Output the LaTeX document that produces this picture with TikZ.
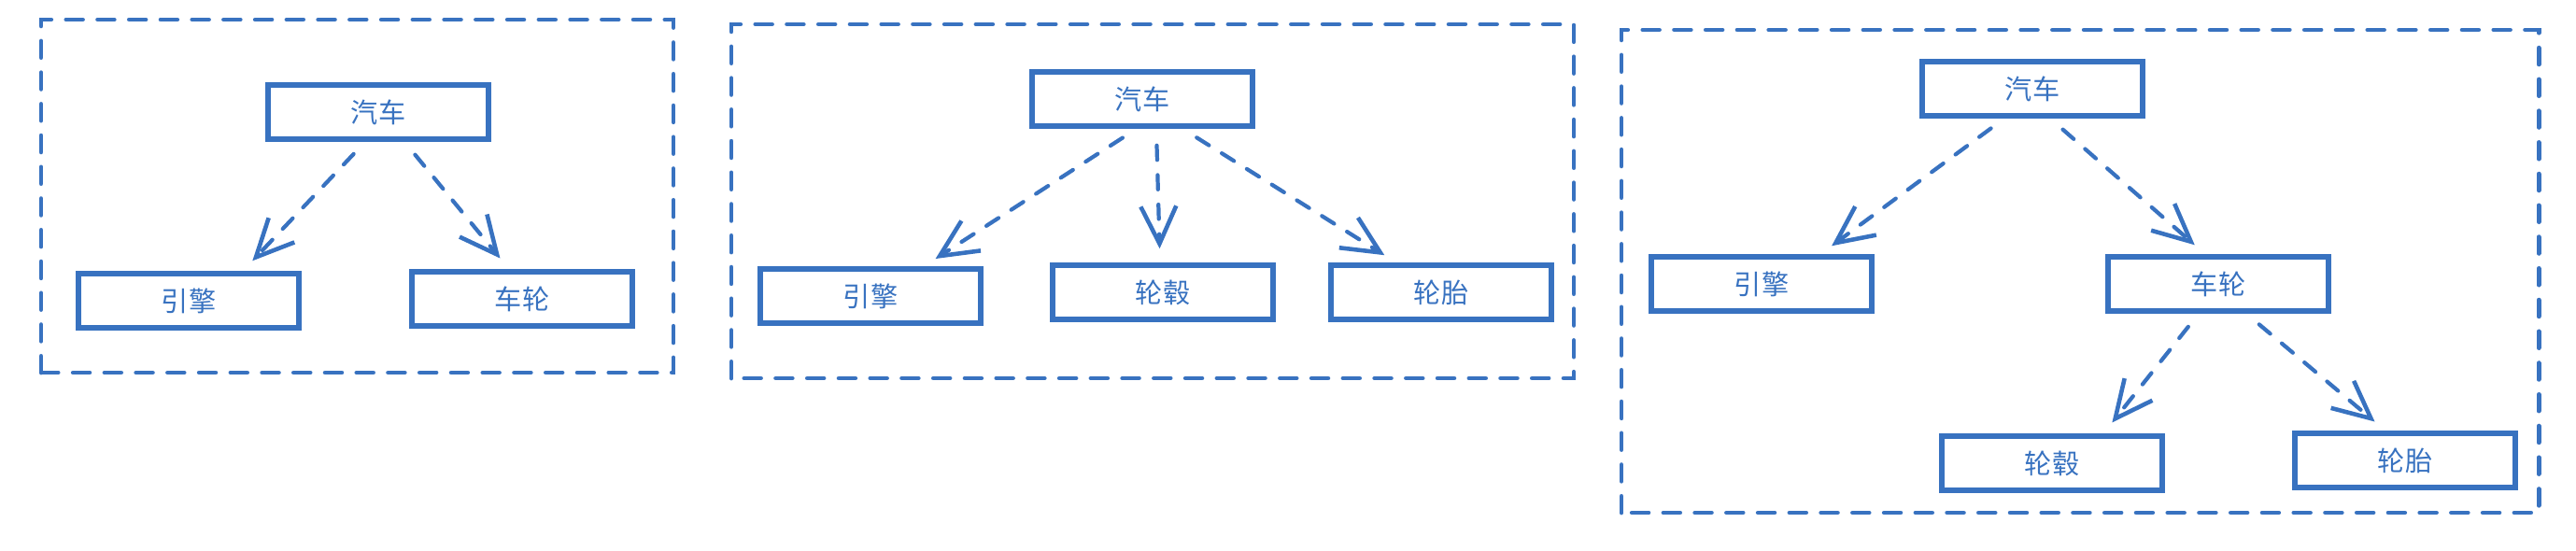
\documentclass[tikz,border=0pt]{standalone}
\usepackage{fontspec}
\setmainfont{Noto Sans CJK SC}
\usepackage{xcolor}
\usetikzlibrary{arrows.meta}
\definecolor{sketchblue}{RGB}{56,114,192}

\begin{document}
\begin{tikzpicture}[
    box/.style={draw=sketchblue, line width=1.6pt, minimum width=2.36cm, minimum height=0.58cm,
        text=sketchblue, font=\fontsize{8.3}{10}\selectfont},
    frame/.style={draw=sketchblue, line width=1.4pt, line cap=round, dash pattern=on 5pt off 4.6pt},
    link/.style={draw=sketchblue, line width=1.2pt, line cap=round, dash pattern=on 4.4pt off 4.6pt,
        -{Straight Barb[length=4mm,width=3.8mm,line width=1.3pt]},
        shorten <=1.8mm, shorten >=1.5mm}
]
    \useasboundingbox (0,0) rectangle (27.58,5.9);
    \draw[frame] (0.44,1.91) rectangle (7.21,5.69);
    \node[box] (car1) at (4.05,4.70) {汽车};
    \node[box] (engine1) at (2.02,2.68) {引擎};
    \node[box] (wheel1) at (5.59,2.70) {车轮};
    \draw[link] ([xshift=-1.4mm]car1.south) -- ([xshift=5.8mm]engine1.north);
    \draw[link] ([xshift=2.8mm]car1.south) -- ([xshift=-1.4mm]wheel1.north);

    \draw[frame] (7.83,1.85) rectangle (16.85,5.64);
    \node[box] (car2) at (12.23,4.84) {汽车};
    \node[box] (engine2) at (9.32,2.73) {引擎};
    \node[box] (hub2) at (12.45,2.77) {轮毂};
    \node[box] (tire2) at (15.43,2.77) {轮胎};
    \draw[link] ([xshift=-0.6mm]car2.south) -- ([xshift=5.7mm]engine2.north);
    \draw[link] ([xshift=1.5mm]car2.south) -- ([xshift=-0.3mm]hub2.north);
    \draw[link] ([xshift=4.3mm]car2.south) -- ([xshift=-4.8mm]tire2.north);

    \draw[frame] (17.36,0.41) rectangle (27.18,5.58);
    \node[box] (car3) at (21.76,4.95) {汽车};
    \node[box] (engine3) at (18.86,2.86) {引擎};
    \node[box] (wheel3) at (23.75,2.86) {车轮};
    \node[box] (hub3) at (21.97,0.94) {轮毂};
    \node[box] (tire3) at (25.75,0.97) {轮胎};
    \draw[link] ([xshift=-3mm]car3.south) -- ([xshift=6.3mm]engine3.north);
    \draw[link] ([xshift=1.9mm]car3.south) -- ([xshift=-1.4mm]wheel3.north);
    \draw[link] ([xshift=-2.1mm]wheel3.south) -- ([xshift=5.5mm]hub3.north);
    \draw[link] ([xshift=3mm]wheel3.south) -- ([xshift=-2.1mm]tire3.north);
\end{tikzpicture}
\end{document}
